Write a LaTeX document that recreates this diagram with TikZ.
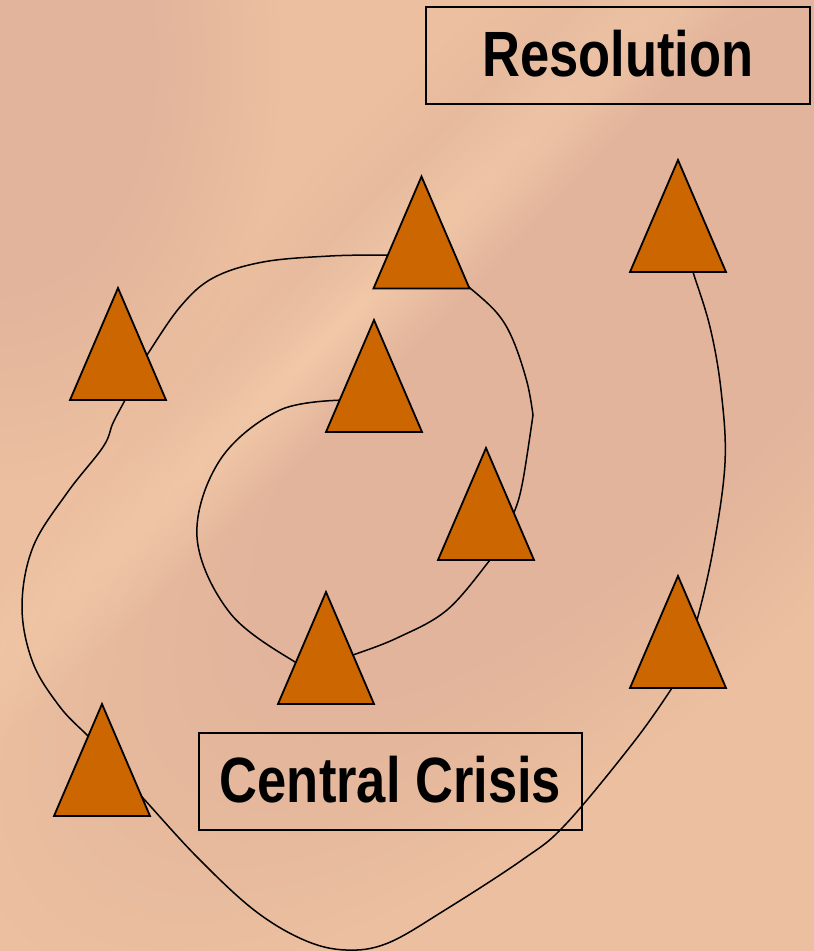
\documentclass[tikz,border=0pt]{standalone}
\usepackage{fontspec}
\usepackage{graphicx}
\setmainfont{Liberation Sans}
\usetikzlibrary{fadings}

\definecolor{parch}{HTML}{EBBF9F}
\definecolor{parchpink}{HTML}{E2B49C}
\definecolor{parchlight}{HTML}{F3CAA9}
\definecolor{triorange}{HTML}{CC6600}

% soft-edged blob fadings for the parchment background
\pgfdeclareradialshading{plateaushade}{\pgfpointorigin}{color(0bp)=(white); color(13bp)=(white); color(25bp)=(black); color(50bp)=(black)}
\pgfdeclarefading{plateau}{\pgfuseshading{plateaushade}}
\tikzfading[name=softblob, inner color=transparent!0, outer color=transparent!100]

\begin{document}
\begin{tikzpicture}[x=1pt,y=-1pt,
  tri/.pic={\filldraw[fill=triorange,draw=black,line width=1.8pt,line join=miter]
            (0,-56) -- (48,56) -- (-48,56) -- cycle;
            \coordinate (-c) at (0,0);},
  spiral/.style={draw=black,line width=1.5pt,line cap=round},
  titlebox/.style={draw=black,line width=1.7pt,inner sep=0pt,text depth=5pt,
                   font=\fontsize{64}{70}\selectfont\bfseries}]

\useasboundingbox (0,0) rectangle (814,951);

% ---- parchment background ----
\begin{scope}
  \clip (0,0) rectangle (814,951);
  \fill[parch] (0,0) rectangle (814,951);
  \fill[parchpink,path fading=plateau] (0,60) ellipse [x radius=280, y radius=420];
  \fill[parchpink,path fading=plateau,transform canvas={shift={(600,350)},rotate=45}]
       (0,0) ellipse [x radius=820, y radius=330];
  \fill[parchlight,path fading=softblob,opacity=0.9,transform canvas={shift={(332,333)},rotate=45}]
       (0,0) ellipse [x radius=1000, y radius=70];
\end{scope}

% ---- spiral path: named ends of each stretch ----
\coordinate (s0) at (348,400);   \coordinate (e0) at (310,664);
\coordinate (s1) at (338,660);   \coordinate (e1) at (498,548);
\coordinate (s2) at (505,526);   \coordinate (k2) at (533,415);
\coordinate (e2) at (462,283);
\coordinate (s3) at (400,255);   \coordinate (e3) at (139,368);
\coordinate (s4) at (128,392);   \coordinate (e4) at (96,745);
\coordinate (s5) at (135,790);   \coordinate (e5) at (678,676);
\coordinate (s6) at (690,632);   \coordinate (e6) at (690,262);

\draw[spiral] plot[smooth,tension=0.6] coordinates {(s0) (280,410) (220,460) (197,537) (230,613) (295,662) (e0)};
\draw[spiral] plot[smooth,tension=0.6] coordinates {(s1) (353,655) (397,638) (447,610) (490,560) (e1)};
\draw[spiral] plot[smooth,tension=0.6] coordinates {(s2) (515,510) (523,480) (k2)};
\draw[spiral] plot[smooth,tension=0.6] coordinates {(k2) (527,382) (513,340) (497,313) (470,288) (e2)};
\draw[spiral] plot[smooth,tension=0.6] coordinates {(s3) (387,255) (330,256) (263,262) (213,278) (180,307) (147,355) (e3)};
\draw[spiral] plot[smooth,tension=0.6] coordinates {(s4) (125,400) (113,423) (103,447) (67,493) (33,547) (22,607) (33,663) (60,707) (87,735) (e4)};
\draw[spiral] plot[smooth,tension=0.6] coordinates {(s5) (143,798) (197,857) (254,910) (304,940) (346,950) (388,943) (445,910) (522,860) (565,825) (633,743) (672,688) (e5)};
\draw[spiral] plot[smooth,tension=0.6] coordinates {(s6) (697,620) (713,550) (725,463) (721,390) (710,327) (693,272) (e6)};

% ---- triangles ----
\pic (t1) at (421.5,232.5) {tri};
\pic (t2) at (678,216) {tri};
\pic (t3) at (118,344) {tri};
\pic (t4) at (374,376) {tri};
\pic (t5) at (486,504) {tri};
\pic (t6) at (326,648) {tri};
\pic (t7) at (678,632) {tri};
\pic (t8) at (102,760) {tri};

% ---- labels ----
\node[titlebox,minimum width=384,minimum height=97] (res) at (618,55.5)
  {\scalebox{0.82}[1]{Resolution}};
\node[titlebox,minimum width=383,minimum height=97] (crisis) at (390.5,781.5)
  {\scalebox{0.82}[1]{Central Crisis}};

\end{tikzpicture}
\end{document}
